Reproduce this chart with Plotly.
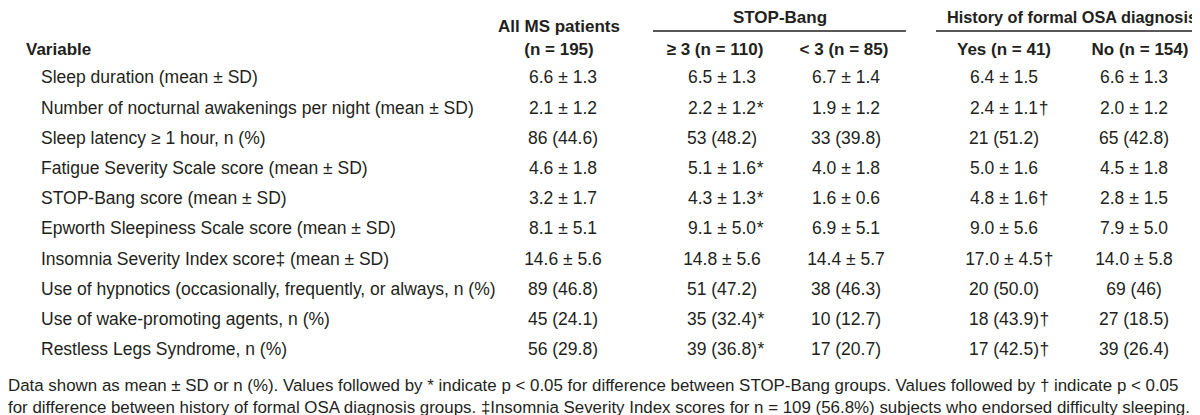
import plotly.graph_objects as go

# ---- data ----
variables = [
    "Sleep duration (mean ± SD)",
    "Number of nocturnal awakenings per night (mean ± SD)",
    "Sleep latency ≥ 1 hour, n (%)",
    "Fatigue Severity Scale score (mean ± SD)",
    "STOP-Bang score (mean ± SD)",
    "Epworth Sleepiness Scale score (mean ± SD)",
    "Insomnia Severity Index score‡ (mean ± SD)",
    "Use of hypnotics (occasionally, frequently, or always, n (%)",
    "Use of wake-promoting agents, n (%)",
    "Restless Legs Syndrome, n (%)",
]
all_ms = ["6.6 ± 1.3", "2.1 ± 1.2", "86 (44.6)", "4.6 ± 1.8", "3.2 ± 1.7",
          "8.1 ± 5.1", "14.6 ± 5.6", "89 (46.8)", "45 (24.1)", "56 (29.8)"]
stopbang_ge3 = ["6.5 ± 1.3", "2.2 ± 1.2*", "53 (48.2)", "5.1 ± 1.6*", "4.3 ± 1.3*",
                "9.1 ± 5.0*", "14.8 ± 5.6", "51 (47.2)", "35 (32.4)*", "39 (36.8)*"]
stopbang_lt3 = ["6.7 ± 1.4", "1.9 ± 1.2", "33 (39.8)", "4.0 ± 1.8", "1.6 ± 0.6",
                "6.9 ± 5.1", "14.4 ± 5.7", "38 (46.3)", "10 (12.7)", "17 (20.7)"]
osa_yes = ["6.4 ± 1.5", "2.4 ± 1.1†", "21 (51.2)", "5.0 ± 1.6", "4.8 ± 1.6†",
           "9.0 ± 5.6", "17.0 ± 4.5†", "20 (50.0)", "18 (43.9)†", "17 (42.5)†"]
osa_no = ["6.6 ± 1.3", "2.0 ± 1.2", "65 (42.8)", "4.5 ± 1.8", "2.8 ± 1.5",
          "7.9 ± 5.0", "14.0 ± 5.8", "69 (46)", "27 (18.5)", "39 (26.4)"]

group_headers = ["All MS patients", "STOP-Bang", "History of formal OSA diagnosis"]
column_headers = ["Variable", "(n = 195)", "≥ 3 (n = 110)", "< 3 (n = 85)",
                  "Yes (n = 41)", "No (n = 154)"]
footnote = [
    "Data shown as mean ± SD or n (%). Values followed by * indicate p < 0.05 for difference between STOP-Bang groups. Values followed by † indicate p < 0.05",
    "for difference between history of formal OSA diagnosis groups. ‡Insomnia Severity Index scores for n = 109 (56.8%) subjects who endorsed difficulty sleeping.",
]

# ---- layout constants ----
W, H = 1200, 415
FONT = "Liberation Sans, Arial, sans-serif"
COLOR = "#231f20"
FS = 17.5
HFS = 17
NFS = 16.9
ROW0, ROWH = 71, 30.2
LABEL_X = 33
col_centers = [555, 714, 838, 996, 1126]
cols = [all_ms, stopbang_ge3, stopbang_lt3, osa_yes, osa_no]
row_y = [ROW0 + i * ROWH for i in range(len(variables))]

# approximate Arial/Liberation advance widths (em) for placing hanging markers
CW = {" ": 0.278, ".": 0.278, "±": 0.584, "(": 0.333, ")": 0.333}


def text_width(s, size):
    return sum(CW.get(c, 0.556) for c in s) * size


fig = go.Figure()


def text_trace(xs, ys, texts, pos, size=FS):
    fig.add_trace(go.Scatter(
        x=xs, y=ys, text=texts, mode="text", textposition=pos,
        textfont=dict(family=FONT, size=size, color=COLOR),
        hoverinfo="skip", showlegend=False, cliponaxis=False))


# row labels
text_trace([LABEL_X] * len(variables), row_y, variables, "middle right")

# values: base text centered, significance markers hanging to the right
for cx, col in zip(col_centers, cols):
    base = [v.rstrip("*†") for v in col]
    marks = [v[len(b):] for v, b in zip(col, base)]
    text_trace([cx] * len(base), row_y, base, "middle center")
    mx, my, mt = [], [], []
    for b, m, y in zip(base, marks, row_y):
        if m:
            mx.append(cx + text_width(b, FS) / 2 + 0.5)
            my.append(y)
            mt.append(m)
    if mt:
        text_trace(mx, my, mt, "middle right")

# headers
text_trace([551], [20], ["<b>" + group_headers[0] + "</b>"], "middle center", HFS)
text_trace([772], [11], ["<b>" + group_headers[1] + "</b>"], "middle center", HFS)
text_trace([1064], [11], ["<b>" + group_headers[2] + "</b>"], "middle center", 16.3)
text_trace([18], [43], ["<b>" + column_headers[0] + "</b>"], "middle right", HFS)
text_trace([551, 707, 836, 996, 1132], [43] * 5,
           ["<b>" + c + "</b>" for c in column_headers[1:]], "middle center", HFS)

# footnotes
text_trace([0, 0], [379, 401], footnote, "middle right", size=NFS)

# rules under spanning headers
fig.add_shape(type="line", x0=645, x1=898, y0=23, y1=23, xref="x", yref="y",
              line=dict(color=COLOR, width=1.3))
fig.add_shape(type="line", x0=928, x1=1197, y0=23, y1=23, xref="x", yref="y",
              line=dict(color=COLOR, width=1.3))

fig.update_layout(
    width=W, height=H, margin=dict(l=0, r=0, t=0, b=0),
    paper_bgcolor="white", plot_bgcolor="white",
    xaxis=dict(range=[0, W], visible=False, fixedrange=True),
    yaxis=dict(range=[H, 0], visible=False, fixedrange=True),
)

fig.write_html("out.html")
